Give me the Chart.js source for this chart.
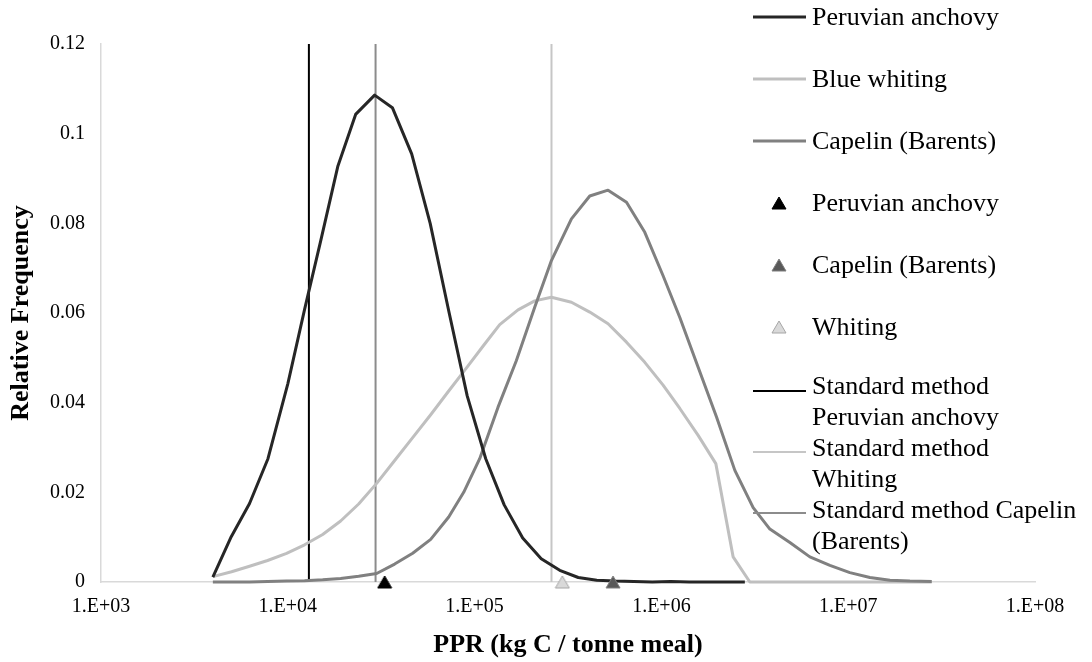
<!DOCTYPE html>
<html><head><meta charset="utf-8">
<script src="https://cdn.jsdelivr.net/npm/chart.js@4.4.0/dist/chart.umd.min.js"></script>
<style>html,body{margin:0;padding:0;background:#fff;} #wrap{width:1092px;height:662px;}</style>
</head><body><div id="wrap"><canvas id="c" width="1092" height="662"></canvas></div>
<script>
// ---- data ----
const xTickValues = [1e3, 1e4, 1e5, 1e6, 1e7, 1e8];
const xTickLabels = ['1.E+03', '1.E+04', '1.E+05', '1.E+06', '1.E+07', '1.E+08'];
const yTickValues = [0, 0.02, 0.04, 0.06, 0.08, 0.1, 0.12];
const yTickLabels = ['0', '0.02', '0.04', '0.06', '0.08', '0.1', '0.12'];

const anchovyPPR = [3970, 4980, 6240, 7830, 10000, 12300, 15000, 18550, 23070, 29170, 36290, 46040, 57840, 72670, 91290, 114700, 144000, 180900, 227300, 285600, 358800, 450800, 566400, 711600, 894000, 1123000, 1411000, 1772000, 2226000, 2797000];
const anchovyFreq = [0.0011, 0.0101, 0.0175, 0.0275, 0.0442, 0.0608, 0.0761, 0.0928, 0.1043, 0.1086, 0.1058, 0.0955, 0.0800, 0.0605, 0.0415, 0.0275, 0.0172, 0.0098, 0.0052, 0.0026, 0.0010, 0.0004, 0.0002, 0.0001, 0, 0.0001, 0, 0, 0, 0];

const whitingPPR = [3970, 5000, 6240, 7795, 9850, 12300, 15370, 19180, 23950, 29890, 37330, 46610, 58200, 72670, 90730, 111900, 136300, 170800, 209800, 257800, 329900, 413500, 518200, 650400, 815000, 1021000, 1255000, 1573000, 1956000, 2421000, 2975000, 28000000];
const whitingFreq = [0.0012, 0.0023, 0.0035, 0.0048, 0.0064, 0.0083, 0.0106, 0.0136, 0.0174, 0.0220, 0.0271, 0.0322, 0.0373, 0.0426, 0.0478, 0.0528, 0.0574, 0.0607, 0.0627, 0.0635, 0.0624, 0.0602, 0.0576, 0.0535, 0.0490, 0.0439, 0.0387, 0.0327, 0.0264, 0.0056, 0, 0];

const capelinPPR = [3970, 5000, 6240, 7795, 9850, 12300, 15370, 19180, 23950, 29890, 37330, 46610, 58200, 72670, 87410, 106500, 133500, 167400, 209800, 257800, 329900, 413500, 518200, 650400, 815000, 1021000, 1255000, 1573000, 1973000, 2473000, 3099000, 3807000, 4873000, 6233000, 7980000, 10210000, 13070000, 16730000, 21400000, 28000000];
const capelinFreq = [0, 0, 0, 0.0001, 0.0002, 0.0003, 0.0005, 0.0008, 0.0013, 0.0019, 0.0040, 0.0064, 0.0095, 0.0145, 0.0200, 0.0275, 0.0390, 0.0494, 0.0613, 0.0717, 0.0810, 0.0861, 0.0874, 0.0847, 0.0780, 0.0683, 0.0590, 0.0479, 0.0368, 0.0249, 0.0166, 0.0118, 0.0088, 0.0056, 0.0037, 0.0021, 0.0010, 0.0004, 0.0002, 0.0001];

const curveNames = ['Peruvian anchovy', 'Blue whiting', 'Capelin (Barents)'];
const pointNames = ['Peruvian anchovy', 'Capelin (Barents)', 'Whiting'];
const pointPPR = [33000, 551000, 295000];
const pointFreq = [0, 0, 0];
const standardNames = [['Standard method', 'Peruvian anchovy'], ['Standard method', 'Whiting'], ['Standard method Capelin', '(Barents)']];
const standardPPR = [12970, 258000, 29500];
const standardFreqRange = [0, 0.12];

// ---- styles ----
const FONT = '"Liberation Serif", "Times New Roman", serif';
const curveColors = ['#262626', '#bfbfbf', '#808080'];
const pointFill = ['#000000', '#595959', '#d9d9d9'];
const pointStroke = ['#000000', '#7f7f7f', '#a6a6a6'];
const standardColors = ['#000000', '#c6c6c6', '#8c8c8c'];

function makeTri(fill, stroke) {
  const c = document.createElement('canvas');
  c.width = 16; c.height = 14;
  const g = c.getContext('2d');
  g.beginPath(); g.moveTo(8, 1); g.lineTo(15, 13); g.lineTo(1, 13); g.closePath();
  g.fillStyle = fill; g.fill();
  g.strokeStyle = stroke; g.lineWidth = 1; g.stroke();
  return c;
}
const triImgs = pointFill.map((f, i) => makeTri(f, pointStroke[i]));

const zip = (xs, ys) => xs.map((x, i) => ({x: x, y: ys[i]}));

const datasets = [];
pointNames.forEach((n, i) => datasets.push({
  label: n, data: [{x: pointPPR[i], y: pointFreq[i]}], pointStyle: triImgs[i],
  pointRadius: 8, showLine: false, clip: false, order: 0
}));
const curves = [[anchovyPPR, anchovyFreq], [whitingPPR, whitingFreq], [capelinPPR, capelinFreq]];
const curveOrder = [1, 3, 2];
curves.forEach((c, i) => datasets.push({
  label: curveNames[i], data: zip(c[0], c[1]), showLine: true, borderColor: curveColors[i],
  borderWidth: 3, pointRadius: 0, tension: 0, clip: false, order: curveOrder[i],
  borderJoinStyle: 'round'
}));
standardPPR.forEach((v, i) => datasets.push({
  label: standardNames[i].join(' '), data: standardFreqRange.map(y => ({x: v, y: y})), showLine: true,
  borderColor: standardColors[i], borderWidth: 2, pointRadius: 0, clip: false, order: 5 + i
}));

const legendPlugin = {
  id: 'customLegend',
  afterDraw(chart) {
    const ctx = chart.ctx;
    ctx.save();
    ctx.font = '26px ' + FONT;
    ctx.fillStyle = '#000';
    ctx.textBaseline = 'middle';
    ctx.textAlign = 'left';
    const lx0 = 753, lx1 = 806, tx = 812, mx = 779;
    const rows = [17, 79, 141];
    curveNames.forEach((n, i) => {
      ctx.strokeStyle = curveColors[i]; ctx.lineWidth = 3;
      ctx.beginPath(); ctx.moveTo(lx0, rows[i]); ctx.lineTo(lx1, rows[i]); ctx.stroke();
      ctx.fillText(n, tx, rows[i] + 1);
    });
    const prow = [203, 265, 327];
    pointNames.forEach((n, i) => {
      ctx.drawImage(triImgs[i], mx - 8, prow[i] - 7);
      ctx.fillText(n, tx, prow[i] + 1);
    });
    const srow = [391, 452, 513];
    const stext = [[387, 418], [449, 480], [511, 542]];
    standardNames.forEach((lines, i) => {
      ctx.strokeStyle = standardColors[i]; ctx.lineWidth = 2;
      ctx.beginPath(); ctx.moveTo(lx0, srow[i]); ctx.lineTo(lx1, srow[i]); ctx.stroke();
      lines.forEach((t, j) => ctx.fillText(t, tx, stext[i][j]));
    });
    ctx.restore();
  }
};

new Chart(document.getElementById('c'), {
  type: 'scatter',
  data: {datasets: datasets},
  options: {
    responsive: false, animation: false,
    layout: {padding: {left: 0, right: 57, top: 44, bottom: 1}},
    plugins: {legend: {display: false}, tooltip: {enabled: false}},
    scales: {
      x: {
        type: 'logarithmic', min: 1e3, max: 1e8,
        afterBuildTicks: s => { s.ticks = xTickValues.map(v => ({value: v})); },
        afterFit: s => { s.height = 662 - 582 - 1; },
        ticks: {
          autoSkip: false, maxRotation: 0, padding: 13, color: '#000',
          font: {family: FONT, size: 20},
          callback: v => { const i = xTickValues.indexOf(v); return i >= 0 ? xTickLabels[i] : ''; }
        },
        grid: {display: false, drawTicks: false},
        border: {display: true, color: '#d9d9d9', width: 1.5},
        title: {display: true, text: 'PPR (kg C / tonne meal)', color: '#000',
          font: {family: FONT, size: 26, weight: 'bold'}, padding: {top: 0, bottom: 0}}
      },
      y: {
        min: 0, max: 0.12,
        afterBuildTicks: s => { s.ticks = yTickValues.map(v => ({value: v})); },
        afterFit: s => { s.width = 101; },
        ticks: {
          padding: 16, color: '#000', font: {family: FONT, size: 20},
          callback: v => { const i = yTickValues.findIndex(t => Math.abs(t - v) < 1e-9); return i >= 0 ? yTickLabels[i] : ''; }
        },
        grid: {display: false, drawTicks: false},
        border: {display: true, color: '#d9d9d9', width: 1.5},
        title: {display: true, text: 'Relative Frequency', color: '#000',
          font: {family: FONT, size: 26, weight: 'bold'}, padding: {top: 6, bottom: 0}}
      }
    }
  },
  plugins: [legendPlugin]
});
</script>
</body></html>
